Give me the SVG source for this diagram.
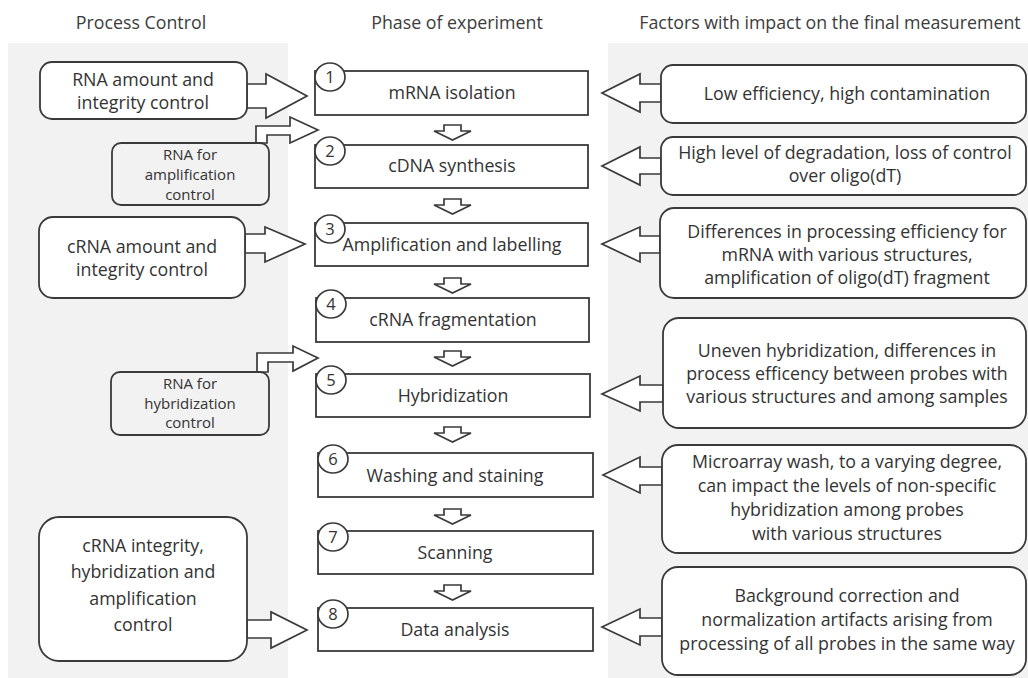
<svg xmlns="http://www.w3.org/2000/svg" width="1028" height="678" viewBox="0 0 1028 678">
  <style>
    .panel { fill: #f2f2f2; }
    .head { font-family: "Open Sans", "Liberation Sans", sans-serif; font-size: 17.8px; fill: #3c3c3c; text-anchor: middle; }
    .txt { font-family: "Open Sans", "Liberation Sans", sans-serif; font-size: 17.8px; fill: #333333; text-anchor: middle; }
    .sm { font-family: "Open Sans", "Liberation Sans", sans-serif; font-size: 15px; fill: #333333; text-anchor: middle; }
    .num { font-family: "Open Sans", "Liberation Sans", sans-serif; font-size: 16.5px; fill: #333333; text-anchor: middle; }
    .phase { fill: #ffffff; stroke: #3a3a3a; stroke-width: 1.8; }
    .badge { fill: #ffffff; stroke: #3a3a3a; stroke-width: 1.7; }
    .rbox { fill: #ffffff; stroke: #3a3a3a; stroke-width: 1.8; }
    .gbox { fill: #f2f2f2; stroke: #3a3a3a; stroke-width: 1.8; }
    .arr { fill: #ffffff; stroke: #3a3a3a; stroke-width: 1.7; stroke-linejoin: miter; }
  </style>

  <!-- column backgrounds -->
  <rect class="panel" x="8" y="43" width="280" height="635"/>
  <rect class="panel" x="608" y="43" width="420" height="635"/>

  <!-- column headings -->
  <g id="headings">
    <text class="head" x="141" y="29">Process Control</text>
    <text class="head" x="457" y="29">Phase of experiment</text>
    <text class="head" x="830" y="29">Factors with impact on the final measurement</text>
  </g>

  <!-- connectors -->
  <g id="connectors">
    <!-- flow between phases -->
    <path class="arr" d="M444,125 H461 V131 H471 L452.5,140 L434,131 H444 Z"/>
    <path class="arr" d="M444,199 H461 V205 H471 L452.5,214 L434,205 H444 Z"/>
    <path class="arr" d="M444,278 H461 V284 H471 L452.5,293 L434,284 H444 Z"/>
    <path class="arr" d="M444,351 H461 V357 H471 L452.5,366 L434,357 H444 Z"/>
    <path class="arr" d="M444,427 H461 V433 H471 L452.5,442 L434,433 H444 Z"/>
    <path class="arr" d="M444,509 H461 V515 H471 L452.5,524 L434,515 H444 Z"/>
    <path class="arr" d="M444,585 H461 V591 H471 L452.5,600 L434,591 H444 Z"/>

    <!-- process controls into phases -->
    <path class="arr" d="M247,84 H266 V74 L307,96 L266,118 V108 H247 Z"/>
    <path class="arr" d="M256,143 V126 H290 V117 L318,130 L290,143 V135 H267 V143 Z"/>
    <path class="arr" d="M245,234 H265 V227 L305,244 L265,262 V253 H245 Z"/>
    <path class="arr" d="M257,372 V353 H293 V346 L318,358 L293,371 V362 H268 V372 Z"/>
    <path class="arr" d="M247,620 H271 V612 L307,630 L271,648 V638 H247 Z"/>

    <!-- impact factors onto phases -->
    <path class="arr" d="M661,84 H640 V74 L602,93 L640,112 V102 H661 Z"/>
    <path class="arr" d="M661,158 H640 V147 L602,166 L640,185 V174 H661 Z"/>
    <path class="arr" d="M660,236 H640 V227 L602,244 L640,262 V253 H660 Z"/>
    <path class="arr" d="M663,385 H640 V376 L602,394 L640,411 V402 H663 Z"/>
    <path class="arr" d="M662,467 H640 V457 L603,475 L640,493 V485 H662 Z"/>
    <path class="arr" d="M662,618 H640 V609 L602,627 L640,645 V636 H662 Z"/>
  </g>

  <!-- phases of the experiment -->
  <g id="phase1">
    <rect class="phase" x="315" y="71" width="273" height="44"/>
    <ellipse class="badge" cx="330" cy="77" rx="15" ry="14"/>
    <text class="num" x="330" y="83">1</text>
    <text class="txt" x="452" y="99">mRNA isolation</text>
  </g>
  <g id="phase2">
    <rect class="phase" x="315" y="145" width="273" height="43"/>
    <ellipse class="badge" cx="330" cy="151" rx="15" ry="14"/>
    <text class="num" x="330" y="157">2</text>
    <text class="txt" x="452" y="172">cDNA synthesis</text>
  </g>
  <g id="phase3">
    <rect class="phase" x="315" y="223" width="273" height="43"/>
    <ellipse class="badge" cx="330" cy="229" rx="15" ry="14"/>
    <text class="num" x="330" y="235">3</text>
    <text class="txt" x="452" y="251">Amplification and labelling</text>
  </g>
  <g id="phase4">
    <rect class="phase" x="316" y="298" width="273" height="44"/>
    <ellipse class="badge" cx="331" cy="304" rx="15" ry="14"/>
    <text class="num" x="331" y="310">4</text>
    <text class="txt" x="453" y="326">cRNA fragmentation</text>
  </g>
  <g id="phase5">
    <rect class="phase" x="316" y="374" width="274" height="43"/>
    <ellipse class="badge" cx="331" cy="380" rx="15" ry="14"/>
    <text class="num" x="331" y="386">5</text>
    <text class="txt" x="453" y="402">Hybridization</text>
  </g>
  <g id="phase6">
    <rect class="phase" x="318" y="453" width="275" height="44"/>
    <ellipse class="badge" cx="333" cy="459" rx="15" ry="14"/>
    <text class="num" x="333" y="465">6</text>
    <text class="txt" x="455" y="482">Washing and staining</text>
  </g>
  <g id="phase7">
    <rect class="phase" x="318" y="531" width="275" height="43"/>
    <ellipse class="badge" cx="333" cy="537" rx="15" ry="14"/>
    <text class="num" x="333" y="543">7</text>
    <text class="txt" x="455" y="559">Scanning</text>
  </g>
  <g id="phase8">
    <rect class="phase" x="318" y="608" width="275" height="43"/>
    <ellipse class="badge" cx="333" cy="614" rx="15" ry="14"/>
    <text class="num" x="333" y="620">8</text>
    <text class="txt" x="455" y="636">Data analysis</text>
  </g>

  <!-- process control boxes -->
  <g id="ctrl-rna">
    <rect class="rbox" x="40" y="62" width="207" height="57" rx="12"/>
    <text class="txt" x="143" y="86">RNA amount and</text>
    <text class="txt" x="143" y="109">integrity control</text>
  </g>
  <g id="ctrl-amp">
    <rect class="gbox" x="112" y="143" width="157" height="62" rx="9"/>
    <text class="sm" x="190" y="160">RNA for</text>
    <text class="sm" x="190" y="180">amplification</text>
    <text class="sm" x="190" y="200">control</text>
  </g>
  <g id="ctrl-crna">
    <rect class="rbox" x="39" y="217" width="206" height="81" rx="14"/>
    <text class="txt" x="142" y="253">cRNA amount and</text>
    <text class="txt" x="142" y="276">integrity control</text>
  </g>
  <g id="ctrl-hyb">
    <rect class="gbox" x="111" y="372" width="158" height="63" rx="9"/>
    <text class="sm" x="190" y="389">RNA for</text>
    <text class="sm" x="190" y="409">hybridization</text>
    <text class="sm" x="190" y="428">control</text>
  </g>
  <g id="ctrl-final">
    <rect class="rbox" x="39" y="517" width="208" height="144" rx="20"/>
    <text class="txt" x="143" y="552">cRNA integrity,</text>
    <text class="txt" x="143" y="578">hybridization and</text>
    <text class="txt" x="143" y="605">amplification</text>
    <text class="txt" x="143" y="631">control</text>
  </g>

  <!-- factors affecting the final measurement -->
  <g id="factor1">
    <rect class="rbox" x="661" y="65" width="365" height="58" rx="12"/>
    <text class="txt" x="847" y="100">Low efficiency, high contamination</text>
  </g>
  <g id="factor2">
    <rect class="rbox" x="661" y="137" width="365" height="58" rx="12"/>
    <text class="txt" x="845" y="159">High level of degradation, loss of control</text>
    <text class="txt" x="845" y="182">over oligo(dT)</text>
  </g>
  <g id="factor3">
    <rect class="rbox" x="660" y="208" width="366" height="90" rx="14"/>
    <text class="txt" x="847" y="238">Differences in processing efficiency for</text>
    <text class="txt" x="847" y="261">mRNA with various structures,</text>
    <text class="txt" x="847" y="284">amplification of oligo(dT) fragment</text>
  </g>
  <g id="factor4">
    <rect class="rbox" x="663" y="318" width="363" height="110" rx="16"/>
    <text class="txt" x="847" y="357">Uneven hybridization, differences in</text>
    <text class="txt" x="847" y="380">process efficency between probes with</text>
    <text class="txt" x="847" y="403">various structures and among samples</text>
  </g>
  <g id="factor5">
    <rect class="rbox" x="662" y="445" width="364" height="108" rx="16"/>
    <text class="txt" x="847" y="468">Microarray wash, to a varying degree,</text>
    <text class="txt" x="847" y="492">can impact the levels of non-specific</text>
    <text class="txt" x="847" y="516">hybridization among probes</text>
    <text class="txt" x="847" y="540">with various structures</text>
  </g>
  <g id="factor6">
    <rect class="rbox" x="662" y="567" width="364" height="108" rx="16"/>
    <text class="txt" x="847" y="602">Background correction and</text>
    <text class="txt" x="847" y="626">normalization artifacts arising from</text>
    <text class="txt" x="847" y="650">processing of all probes in the same way</text>
  </g>
</svg>
